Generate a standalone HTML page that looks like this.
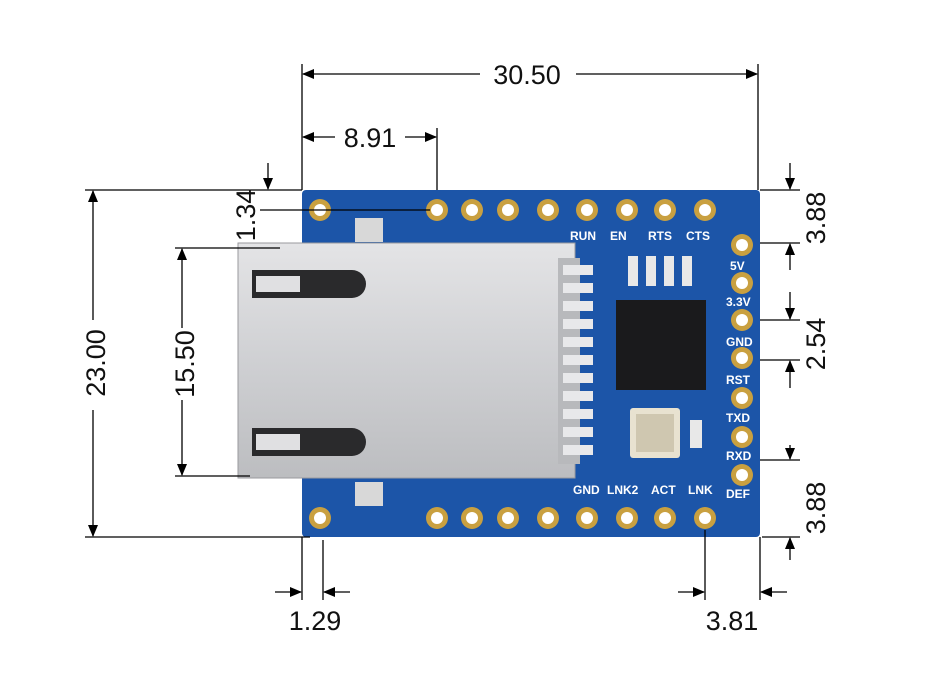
<!DOCTYPE html>
<html><head><meta charset="utf-8"><style>
body{margin:0;background:#fff;width:948px;height:677px;overflow:hidden}
svg{display:block}
text{font-family:"Liberation Sans",sans-serif}
</style></head><body>
<svg width="948" height="677" viewBox="0 0 948 677">
<defs>
<marker id="a" markerWidth="12" markerHeight="10" refX="11" refY="5" orient="auto" markerUnits="userSpaceOnUse"><path d="M0,0 L12,5 L0,10 z" fill="#000"/></marker>
<linearGradient id="m" x1="0" y1="0" x2="0" y2="1"><stop offset="0" stop-color="#e4e4e6"/><stop offset="0.5" stop-color="#cfd0d3"/><stop offset="1" stop-color="#bcbdc0"/></linearGradient>
</defs>
<rect x="302" y="190" width="458" height="347" rx="4" fill="#1c55a8"/>
<g fill="#c9a040">
<circle cx="320" cy="210" r="11"/><circle cx="437" cy="210" r="11"/><circle cx="472" cy="210" r="11"/><circle cx="508" cy="210" r="11"/><circle cx="548" cy="210" r="11"/><circle cx="587" cy="210" r="11"/><circle cx="627" cy="210" r="11"/><circle cx="665" cy="210" r="11"/><circle cx="705" cy="210" r="11"/>
<circle cx="320" cy="518" r="11"/><circle cx="437" cy="518" r="11"/><circle cx="472" cy="518" r="11"/><circle cx="508" cy="518" r="11"/><circle cx="548" cy="518" r="11"/><circle cx="587" cy="518" r="11"/><circle cx="627" cy="518" r="11"/><circle cx="665" cy="518" r="11"/><circle cx="705" cy="518" r="11"/>
<circle cx="742" cy="245" r="11"/><circle cx="742" cy="283" r="11"/><circle cx="742" cy="320" r="11"/><circle cx="742" cy="358" r="11"/><circle cx="742" cy="398" r="11"/><circle cx="742" cy="437" r="11"/><circle cx="742" cy="475" r="11"/>
</g>
<g fill="#fff">
<circle cx="320" cy="210" r="6"/><circle cx="437" cy="210" r="6"/><circle cx="472" cy="210" r="6"/><circle cx="508" cy="210" r="6"/><circle cx="548" cy="210" r="6"/><circle cx="587" cy="210" r="6"/><circle cx="627" cy="210" r="6"/><circle cx="665" cy="210" r="6"/><circle cx="705" cy="210" r="6"/>
<circle cx="320" cy="518" r="6"/><circle cx="437" cy="518" r="6"/><circle cx="472" cy="518" r="6"/><circle cx="508" cy="518" r="6"/><circle cx="548" cy="518" r="6"/><circle cx="587" cy="518" r="6"/><circle cx="627" cy="518" r="6"/><circle cx="665" cy="518" r="6"/><circle cx="705" cy="518" r="6"/>
<circle cx="742" cy="245" r="6"/><circle cx="742" cy="283" r="6"/><circle cx="742" cy="320" r="6"/><circle cx="742" cy="358" r="6"/><circle cx="742" cy="398" r="6"/><circle cx="742" cy="437" r="6"/><circle cx="742" cy="475" r="6"/>
</g>
<rect x="355" y="218" width="28" height="24" fill="#d8d8d8"/><rect x="355" y="482" width="28" height="24" fill="#d8d8d8"/>
<rect x="238" y="243" width="337" height="235" fill="url(#m)" stroke="#9a9a9e"/>
<rect x="558" y="258" width="22" height="206" fill="#b8b9bc"/>
<g fill="#e8e8ea"><rect x="563" y="265" width="30" height="10"/><rect x="563" y="283" width="30" height="10"/><rect x="563" y="301" width="30" height="10"/><rect x="563" y="319" width="30" height="10"/><rect x="563" y="337" width="30" height="10"/><rect x="563" y="355" width="30" height="10"/><rect x="563" y="373" width="30" height="10"/><rect x="563" y="391" width="30" height="10"/><rect x="563" y="409" width="30" height="10"/><rect x="563" y="427" width="30" height="10"/><rect x="563" y="445" width="30" height="10"/></g>
<path d="M252,270 H352 a14,14 0 0 1 0,28 H252 z" fill="#2a2a2c"/>
<path d="M252,428 H352 a14,14 0 0 1 0,28 H252 z" fill="#2a2a2c"/>
<rect x="256" y="276" width="44" height="16" fill="#e0e0e2"/><rect x="256" y="434" width="44" height="16" fill="#e0e0e2"/>
<rect x="616" y="300" width="90" height="90" fill="#1a1a1c"/>
<rect x="630" y="408" width="50" height="50" rx="3" fill="#e8e2d0"/><rect x="636" y="414" width="38" height="38" fill="#cfc7b0"/>
<g fill="#e8e8e8"><rect x="628" y="256" width="10" height="30"/><rect x="646" y="256" width="10" height="30"/><rect x="664" y="256" width="10" height="30"/><rect x="682" y="256" width="10" height="30"/><rect x="690" y="420" width="12" height="28"/></g>
<g fill="#fff" font-size="12" font-weight="bold">
<text x="570" y="240">RUN</text><text x="610" y="240">EN</text><text x="648" y="240">RTS</text><text x="686" y="240">CTS</text>
<text x="730" y="270">5V</text><text x="726" y="306">3.3V</text><text x="726" y="346">GND</text><text x="726" y="384">RST</text><text x="726" y="422">TXD</text><text x="726" y="460">RXD</text><text x="726" y="498">DEF</text>
<text x="573" y="494">GND</text><text x="607" y="494">LNK2</text><text x="651" y="494">ACT</text><text x="688" y="494">LNK</text>
</g>
<g stroke="#000" stroke-width="1.3" fill="none">
<line x1="302" y1="64" x2="302" y2="190"/><line x1="758" y1="64" x2="758" y2="190"/>
<line x1="480" y1="74" x2="303" y2="74" marker-end="url(#a)"/><line x1="576" y1="74" x2="757" y2="74" marker-end="url(#a)"/>
<line x1="437" y1="128" x2="437" y2="190"/>
<line x1="335" y1="137" x2="303" y2="137" marker-end="url(#a)"/><line x1="405" y1="137" x2="436" y2="137" marker-end="url(#a)"/>
<line x1="85" y1="190" x2="302" y2="190"/><line x1="85" y1="537" x2="310" y2="537"/>
<line x1="93" y1="320" x2="93" y2="191" marker-end="url(#a)"/><line x1="93" y1="410" x2="93" y2="536" marker-end="url(#a)"/>
<line x1="175" y1="248" x2="280" y2="248"/><line x1="175" y1="476" x2="250" y2="476"/>
<line x1="182" y1="328" x2="182" y2="249" marker-end="url(#a)"/><line x1="182" y1="400" x2="182" y2="475" marker-end="url(#a)"/>
<line x1="260" y1="210" x2="430" y2="210"/>
<line x1="268" y1="163" x2="268" y2="189" marker-end="url(#a)"/>
<line x1="760" y1="190" x2="800" y2="190"/><line x1="760" y1="243" x2="800" y2="243"/>
<line x1="790" y1="163" x2="790" y2="189" marker-end="url(#a)"/><line x1="790" y1="270" x2="790" y2="244" marker-end="url(#a)"/>
<line x1="760" y1="320" x2="800" y2="320"/><line x1="760" y1="360" x2="800" y2="360"/>
<line x1="790" y1="292" x2="790" y2="319" marker-end="url(#a)"/><line x1="790" y1="388" x2="790" y2="361" marker-end="url(#a)"/>
<line x1="760" y1="460" x2="800" y2="460"/><line x1="762" y1="537" x2="800" y2="537"/>
<line x1="790" y1="445" x2="790" y2="459" marker-end="url(#a)"/><line x1="790" y1="560" x2="790" y2="538" marker-end="url(#a)"/>
<line x1="302" y1="537" x2="302" y2="600"/><line x1="323" y1="540" x2="323" y2="600"/>
<line x1="275" y1="592" x2="301" y2="592" marker-end="url(#a)"/><line x1="350" y1="592" x2="324" y2="592" marker-end="url(#a)"/>
<line x1="705" y1="530" x2="705" y2="600"/><line x1="760" y1="537" x2="760" y2="600"/>
<line x1="678" y1="592" x2="704" y2="592" marker-end="url(#a)"/><line x1="787" y1="592" x2="761" y2="592" marker-end="url(#a)"/>
</g>
<g fill="#111" font-size="27">
<text x="527" y="84" text-anchor="middle">30.50</text>
<text x="370" y="147" text-anchor="middle">8.91</text>
<text x="315" y="630" text-anchor="middle">1.29</text>
<text x="732" y="630" text-anchor="middle">3.81</text>
<text transform="translate(105,363) rotate(-90)" text-anchor="middle">23.00</text>
<text transform="translate(194,364) rotate(-90)" text-anchor="middle">15.50</text>
<text transform="translate(255,215) rotate(-90)" text-anchor="middle">1.34</text>
<text transform="translate(825,218) rotate(-90)" text-anchor="middle">3.88</text>
<text transform="translate(825,344) rotate(-90)" text-anchor="middle">2.54</text>
<text transform="translate(825,508) rotate(-90)" text-anchor="middle">3.88</text>
</g>
</svg>
</body></html>
